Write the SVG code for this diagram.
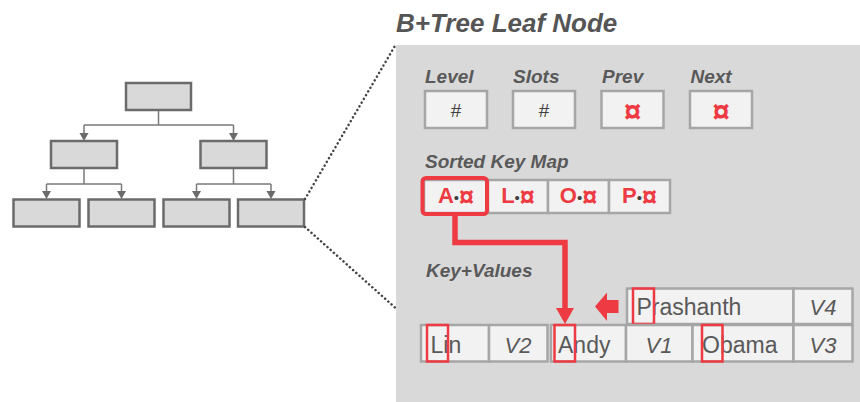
<svg xmlns="http://www.w3.org/2000/svg" width="860" height="402" viewBox="0 0 860 402">
<defs>
<style>
.tbox{fill:#d9d9d9;stroke:#6b6b6b;stroke-width:2.5}
.tline{fill:none;stroke:#7a7a7a;stroke-width:1.5}
.thead{fill:#6b6b6b}
.cell{fill:#f2f2f2;stroke:#a6a6a6;stroke-width:2.5}
.lbl{font-family:"Liberation Sans",Arial,sans-serif;font-weight:bold;font-style:italic;font-size:19px;fill:#595959}
.hash{font-family:"Liberation Sans",Arial,sans-serif;font-size:19px;fill:#404040;text-anchor:middle}
.ptr{font-family:"Liberation Sans",Arial,sans-serif;font-weight:bold;font-size:31px;fill:#ee3b43;text-anchor:middle}
.key{font-family:"Liberation Sans",Arial,sans-serif;font-weight:bold;font-size:22px;fill:#ee3b43;text-anchor:middle}
.dot{fill:#404040;font-weight:normal;font-size:15px}
.cur{font-size:27px}
.kv{font-family:"Liberation Sans",Arial,sans-serif;font-size:23px;fill:#595959}
.val{font-family:"Liberation Sans",Arial,sans-serif;font-style:italic;font-size:22px;fill:#595959;text-anchor:middle}
.hl{fill:none;stroke:#ee3b43;stroke-width:2.5}
.dots{fill:none;stroke:#444;stroke-width:2.5;stroke-linecap:round;stroke-dasharray:0.1 4.2}
</style>
</defs>

<g id="tree-connectors">
<path class="tline" d="M158.5 110 V125 M84 125 H233.5 M84 125 V134 M233.5 125 V134"/>
<polygon class="thead" points="79.5,133 88.5,133 84,141"/>
<polygon class="thead" points="229,133 238,133 233.5,141"/>
<path class="tline" d="M84 168 V184 M46.5 184 H121.5 M46.5 184 V192 M121.5 184 V192"/>
<polygon class="thead" points="42,191 51,191 46.5,199"/>
<polygon class="thead" points="117,191 126,191 121.5,199"/>
<path class="tline" d="M233.5 168 V184 M196.5 184 H271 M196.5 184 V192 M271 184 V192"/>
<polygon class="thead" points="192,191 201,191 196.5,199"/>
<polygon class="thead" points="266.5,191 275.5,191 271,199"/>
</g>

<g id="tree-root"><rect class="tbox" x="126" y="83" width="65" height="27"/></g>
<g id="tree-inner-left"><rect class="tbox" x="51" y="141" width="66" height="27"/></g>
<g id="tree-inner-right"><rect class="tbox" x="200.5" y="141" width="66" height="27"/></g>
<g id="tree-leaf-1"><rect class="tbox" x="13.5" y="199.5" width="66" height="27"/></g>
<g id="tree-leaf-2"><rect class="tbox" x="88.5" y="199.5" width="66" height="27"/></g>
<g id="tree-leaf-3"><rect class="tbox" x="163.5" y="199.5" width="66" height="27"/></g>
<g id="tree-leaf-4"><rect class="tbox" x="238" y="199.5" width="66" height="27"/></g>

<g id="zoom-lines">
<path class="dots" d="M305 199 L395.5 45"/>
<path class="dots" d="M305 227 L395.5 308"/>
</g>

<text x="396" y="32" font-family="'Liberation Sans',Arial,sans-serif" font-weight="bold" font-style="italic" font-size="26" fill="#555555">B+Tree Leaf Node</text>

<g id="leaf-panel">
<rect x="396" y="45" width="464" height="357" fill="#d9d9d9"/>
</g>

<g id="header">
<text class="lbl" x="425" y="83">Level</text>
<text class="lbl" x="513" y="83">Slots</text>
<text class="lbl" x="602" y="83">Prev</text>
<text class="lbl" x="690.5" y="83">Next</text>
<g id="level"><rect class="cell" x="425" y="91" width="62" height="37"/><text class="hash" x="456" y="117">#</text></g>
<g id="slots"><rect class="cell" x="513" y="91" width="62" height="37"/><text class="hash" x="544" y="117">#</text></g>
<g id="prev"><rect class="cell" x="601.5" y="91" width="62" height="37"/><text class="ptr" x="632.5" y="122">¤</text></g>
<g id="next"><rect class="cell" x="690" y="91" width="62" height="37"/><text class="ptr" x="721" y="122">¤</text></g>
</g>

<g id="sorted-key-map">
<text class="lbl" x="425" y="168">Sorted Key Map</text>
<g id="km-a"><rect class="cell" x="424" y="180" width="64" height="33"/><text class="key" x="456" y="203">A<tspan class="dot">•</tspan><tspan class="cur" dy="3">¤</tspan></text></g>
<g id="km-l"><rect class="cell" x="488" y="180" width="60" height="33"/><text class="key" x="518" y="203">L<tspan class="dot">•</tspan><tspan class="cur" dy="3">¤</tspan></text></g>
<g id="km-o"><rect class="cell" x="548" y="180" width="61" height="33"/><text class="key" x="578.5" y="203">O<tspan class="dot">•</tspan><tspan class="cur" dy="3">¤</tspan></text></g>
<g id="km-p"><rect class="cell" x="609" y="180" width="61" height="33"/><text class="key" x="639.5" y="203">P<tspan class="dot">•</tspan><tspan class="cur" dy="3">¤</tspan></text></g>
<rect x="422.5" y="178" width="64.5" height="36" rx="3.5" fill="none" stroke="#ee3b43" stroke-width="4"/>
</g>

<g id="key-values">
<text class="lbl" x="426" y="277">Key+Values</text>
<g id="kv-prashanth">
<rect class="cell" x="627" y="288.5" width="166.5" height="35.5"/>
<rect class="cell" x="793.5" y="288.5" width="59" height="35.5"/>
<text class="kv" x="636.5" y="315">Prashanth</text>
<text class="val" x="823" y="315">V4</text>
<rect class="hl" x="633" y="288.5" width="21" height="35.5"/>
</g>
<g id="kv-lin">
<rect class="cell" x="421" y="325" width="68" height="36.5"/>
<rect class="cell" x="489" y="325" width="58.5" height="36.5"/>
<text class="kv" x="430.5" y="353">Lin</text>
<text class="val" x="518" y="353">V2</text>
<rect class="hl" x="427" y="325" width="21" height="36.5"/>
</g>
<g id="kv-andy">
<rect class="cell" x="551" y="325" width="75" height="36.5"/>
<rect class="cell" x="626" y="325" width="66.5" height="36.5"/>
<text class="kv" x="558" y="353">Andy</text>
<text class="val" x="659" y="353">V1</text>
<rect class="hl" x="554.5" y="325" width="20.5" height="36.5"/>
</g>
<g id="kv-obama">
<rect class="cell" x="692.5" y="325" width="101" height="36.5"/>
<rect class="cell" x="793.5" y="325" width="59" height="36.5"/>
<text class="kv" x="702" y="353">Obama</text>
<text class="val" x="823" y="353">V3</text>
<rect class="hl" x="702" y="325" width="20.5" height="36.5"/>
</g>
</g>

<g id="connectors">
<path d="M455 214 V242.5 H565 V309" fill="none" stroke="#ee3b43" stroke-width="5.5" stroke-linejoin="miter"/>
<polygon points="556,308 574,308 565,324" fill="#ee3b43"/>
<polygon points="595,306.5 607,292.5 607,300 618.5,300 618.5,313 607,313 607,321" fill="#ee3b43"/>
</g>
</svg>
